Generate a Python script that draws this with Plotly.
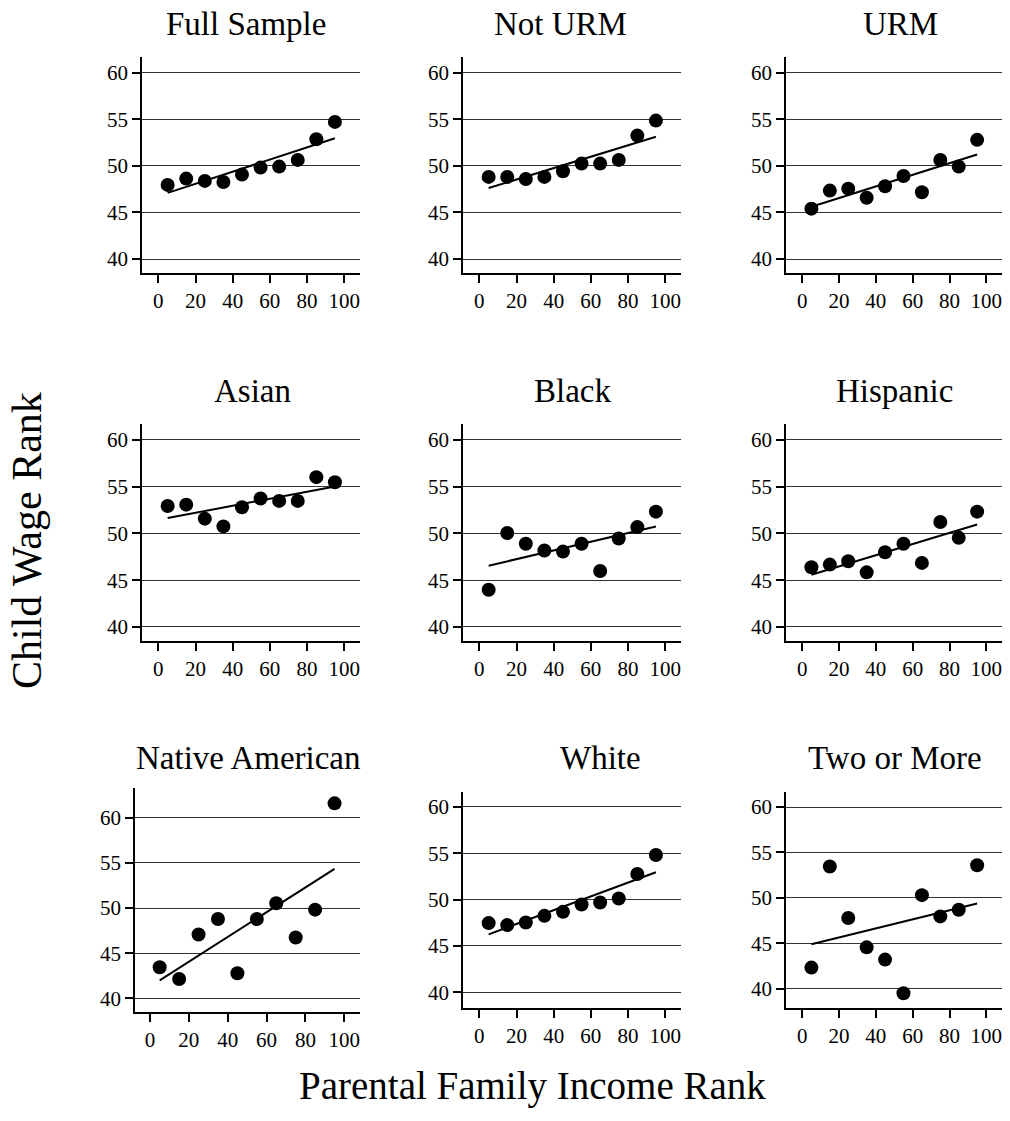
import numpy as np
import plotly.graph_objects as go

# ---------------- data ----------------
income_rank = [5, 15, 25, 35, 45, 55, 65, 75, 85, 95]
panel_titles = ["Full Sample", "Not URM", "URM",
                "Asian", "Black", "Hispanic",
                "Native American", "White", "Two or More"]
full_sample = [47.96, 48.64, 48.39, 48.28, 49.07, 49.82, 49.93, 50.65, 52.87, 54.73]
not_urm = [48.82, 48.82, 48.60, 48.82, 49.43, 50.25, 50.25, 50.65, 53.26, 54.87]
urm = [45.41, 47.35, 47.56, 46.59, 47.81, 48.92, 47.17, 50.65, 49.93, 52.80]
asian = [52.94, 53.08, 51.58, 50.75, 52.80, 53.73, 53.48, 53.48, 56.02, 55.48]
black = [43.98, 50.04, 48.89, 48.17, 48.06, 48.89, 45.99, 49.46, 50.68, 52.33]
hispanic = [46.38, 46.67, 47.03, 45.84, 47.99, 48.89, 46.85, 51.22, 49.53, 52.33]
native_american = [43.46, 42.16, 47.08, 48.79, 42.79, 48.79, 50.54, 46.74, 49.83, 61.60]
white = [47.46, 47.24, 47.53, 48.24, 48.67, 49.46, 49.68, 50.11, 52.76, 54.80]
two_or_more = [42.34, 53.46, 47.79, 44.57, 43.22, 39.52, 50.31, 47.97, 48.70, 53.60]
y_ticks = [40, 45, 50, 55, 60]
x_ticks = [0, 20, 40, 60, 80, 100]
x_axis_title = "Parental Family Income Rank"
y_axis_title = "Child Wage Rank"

series = [full_sample, not_urm, urm, asian, black, hispanic,
          native_american, white, two_or_more]

# ---------------- layout (pixels) ----------------
W, H = 1010, 1121
# left, right, top, bottom of each plot area
boxes = [(142, 360, 57, 273), (463, 681, 57, 273), (786, 1002, 57, 273),
         (142, 360, 424, 641), (463, 681, 424, 641), (786, 1002, 424, 641),
         (135, 360, 788, 1012), (463, 681, 792, 1008), (786, 1002, 792, 1008)]
y_ranges = [[38.5, 61.7]] * 6 + [[38.5, 63.3], [38.3, 61.6], [37.9, 61.65]]
x_ranges = [[-8.8, 108.5]] * 6 + [[-7.7, 108.1], [-8.8, 108.5], [-8.8, 108.5]]
title_x = [246, 560, 900, 252, 572, 894, 248, 600, 895]
title_y = [24, 24, 24, 391, 391, 391, 758, 758, 758]

FONT = "Liberation Serif, Times New Roman, serif"

fig = go.Figure()
layout = dict(
    width=W, height=H, margin=dict(l=0, r=0, t=0, b=0),
    paper_bgcolor="white", plot_bgcolor="white", showlegend=False,
    font=dict(family=FONT, color="black"),
)
annotations = []

for i, vals in enumerate(series):
    k = "" if i == 0 else str(i + 1)
    xa, ya = "x" + k, "y" + k
    slope, intercept = np.polyfit(income_rank, vals, 1)
    fx = [income_rank[0], income_rank[-1]]
    fy = [intercept + slope * v for v in fx]
    fig.add_trace(go.Scatter(x=fx, y=fy, mode="lines",
                             line=dict(color="black", width=2),
                             xaxis=xa, yaxis=ya, hoverinfo="skip"))
    fig.add_trace(go.Scatter(x=income_rank, y=vals, mode="markers",
                             marker=dict(color="black", size=14),
                             xaxis=xa, yaxis=ya, cliponaxis=False))
    l, r, t, b = boxes[i]
    layout["xaxis" + k] = dict(
        domain=[l / W, r / W], range=x_ranges[i], anchor=ya,
        tickvals=x_ticks, ticks="outside", ticklen=8, tickwidth=1.5,
        tickcolor="black", showline=True, linecolor="black", linewidth=1.5,
        showgrid=False, zeroline=False, tickfont=dict(size=21, family=FONT),
    )
    layout["yaxis" + k] = dict(
        domain=[1 - b / H, 1 - t / H], range=y_ranges[i], anchor=xa,
        tickvals=y_ticks, ticks="outside", ticklen=8, tickwidth=1.5,
        tickcolor="black", showline=True, linecolor="black", linewidth=1.5,
        showgrid=True, gridcolor="#333333", gridwidth=1, zeroline=False,
        tickfont=dict(size=21, family=FONT),
    )
    annotations.append(dict(text=panel_titles[i], xref="paper", yref="paper",
                            x=title_x[i] / W, y=1 - title_y[i] / H,
                            xanchor="center", yanchor="middle", showarrow=False,
                            font=dict(size=33, family=FONT, color="black")))

annotations.append(dict(text=y_axis_title, xref="paper", yref="paper",
                        x=27 / W, y=1 - 541 / H, textangle=-90,
                        xanchor="center", yanchor="middle", showarrow=False,
                        font=dict(size=42, family=FONT, color="black")))
annotations.append(dict(text=x_axis_title, xref="paper", yref="paper",
                        x=532 / W, y=1 - 1086 / H,
                        xanchor="center", yanchor="middle", showarrow=False,
                        font=dict(size=39, family=FONT, color="black")))
layout["annotations"] = annotations
fig.update_layout(**layout)

fig.write_html("out.html", config={"displayModeBar": False},
               post_script="document.body.style.margin='0';")
